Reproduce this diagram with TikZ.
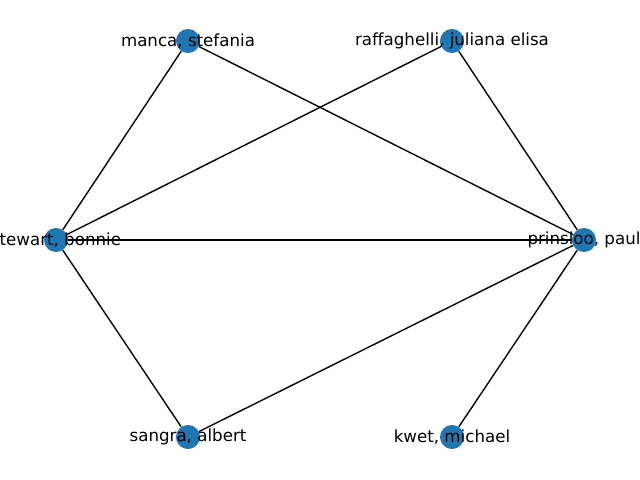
\documentclass[tikz,border=0pt]{standalone}
\usepackage{fontspec}
\setmainfont{DejaVu Sans}
\usepackage{tikz}
\definecolor{nodeblue}{HTML}{1F77B4}

\begin{document}
\begin{tikzpicture}[x=0.72pt,y=-0.72pt]
\tikzstyle{vertex}=[circle,fill=nodeblue,draw=none,minimum size=17.3pt,inner sep=0pt]
\tikzstyle{nametag}=[inner sep=0pt,font=\fontsize{12pt}{14pt}\selectfont]
\tikzstyle{edge}=[black,line width=1pt]
\useasboundingbox (0,0) rectangle (640,480);
\clip (0,0) rectangle (640,480);
% vertices
\node [vertex] (manca) at (188,41) {};
\node [vertex] (raff) at (452,41) {};
\node [vertex] (stew) at (56,240) {};
\node [vertex] (prin) at (584,240) {};
\node [vertex] (sang) at (188,437) {};
\node [vertex] (kwet) at (452,437) {};
% edges
\draw [edge] (manca) -- (stew);
\draw [edge] (manca) -- (prin);
\draw [edge] (raff) -- (stew);
\draw [edge] (raff) -- (prin);
\draw [edge] (stew) -- (prin);
\draw [edge] (stew) -- (sang);
\draw [edge] (sang) -- (prin);
\draw [edge] (prin) -- (kwet);
% labels
\node [nametag] at (manca) {manca, stefania};
\node [nametag] at (raff) {raffaghelli, juliana elisa};
\node [nametag] at (stew) {stewart, bonnie};
\node [nametag] at (prin) {prinsloo, paul};
\node [nametag] at (sang) {sangra, albert};
\node [nametag] at (kwet) {kwet, michael};
\end{tikzpicture}
\end{document}
